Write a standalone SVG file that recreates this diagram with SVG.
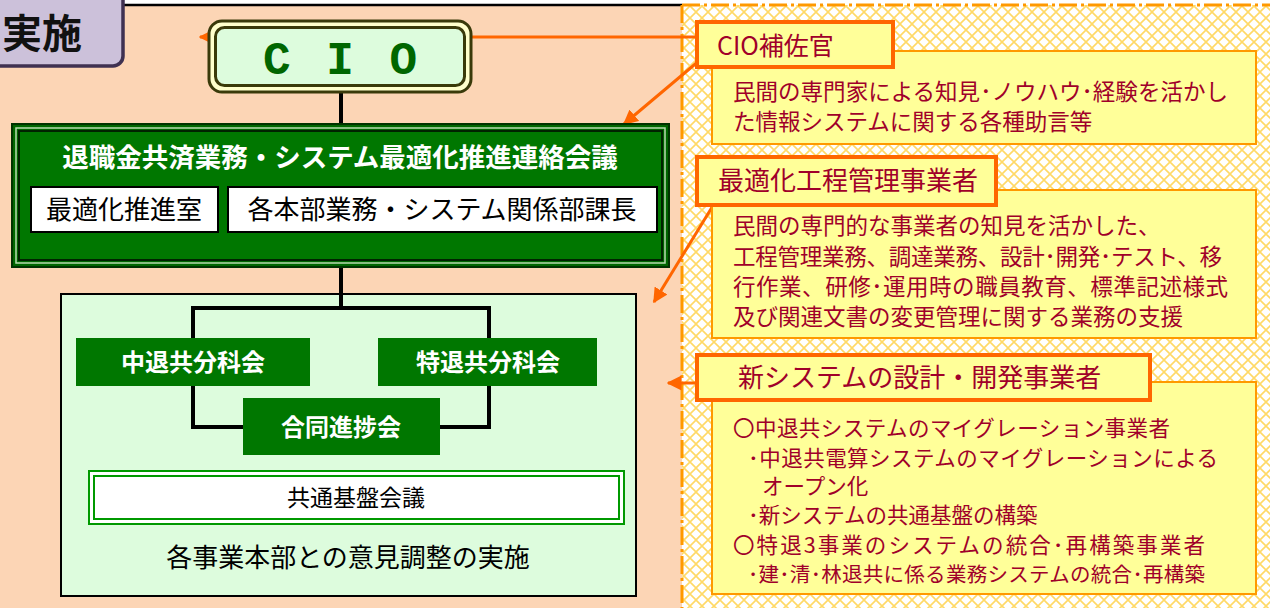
<svg xmlns="http://www.w3.org/2000/svg" width="1270" height="608" viewBox="0 0 1270 608">
<defs>
<pattern id="hatch" width="12" height="12" patternUnits="userSpaceOnUse">
<rect width="12" height="12" fill="#FFFFFF"/>
<path d="M0,0 L12,12 M12,0 L0,12" stroke="#FFD966" stroke-width="1.6"/>
</pattern>
<marker id="ah" viewBox="0 0 10 10" refX="9" refY="5" markerWidth="5" markerHeight="5" orient="auto" markerUnits="strokeWidth">
<path d="M0,0 L10,5 L0,10 z" fill="#FF6600"/>
</marker>
<style>
.jp{font-family:"Noto Sans CJK JP","Liberation Sans",sans-serif;}
.wt{fill:#FFFFFF;font-weight:bold;}
.bk{fill:#000000;}
.rd{fill:#A0002A;}
.gbox{fill:#007700;}
.lbl{fill:#FFFF99;stroke:#FF6600;stroke-width:4;}
.desc{fill:#FFFF99;stroke:#FF9900;stroke-width:2;}
.conn{stroke:#000000;stroke-width:4;fill:none;}
.oarr{stroke:#FF6600;stroke-width:3;fill:none;marker-end:url(#ah);}
</style>
</defs>

<!-- backgrounds -->
<rect x="0" y="0" width="1270" height="608" fill="#FFFFFF"/>
<rect x="0" y="5" width="682" height="603" fill="#FCD5B5"/>
<rect x="682" y="5" width="588" height="603" fill="url(#hatch)"/>
<line x1="120" y1="5" x2="682" y2="5" stroke="#000000" stroke-width="2.5"/>
<line x1="682" y1="5" x2="1270" y2="5" stroke="#FF9900" stroke-width="3" stroke-dasharray="18 4 3 4"/>
<line x1="682" y1="5" x2="682" y2="608" stroke="#FF9900" stroke-width="3" stroke-dasharray="18 4 3 4"/>

<!-- tab -->
<g id="tab">
<rect x="-12" y="-12" width="135" height="78" rx="10" fill="#CCC1DA" stroke="#3F3151" stroke-width="3.5"/>
<text x="2" y="48" class="jp" font-size="40" font-weight="bold" fill="#111111">実施</text>
</g>

<!-- lower box -->
<g id="lower">
<rect x="61" y="294" width="575" height="302" fill="#DDFCDD" stroke="#000000" stroke-width="2"/>
<text x="348" y="567" text-anchor="middle" class="jp bk" font-size="26">各事業本部との意見調整の実施</text>
</g>

<!-- connectors -->
<g id="connectors">
<line class="conn" x1="341" y1="90" x2="341" y2="126"/>
<line class="conn" x1="341" y1="265" x2="341" y2="308"/>
<polyline class="conn" points="193,340 193,308 489,308 489,340"/>
<polyline class="conn" points="193,385 193,427 245,427"/>
<polyline class="conn" points="489,385 489,427 438,427"/>
<line class="oarr" x1="697" y1="37" x2="200" y2="37"/>
<line class="oarr" x1="700" y1="60" x2="624" y2="124"/>
<line class="oarr" x1="714" y1="204" x2="654" y2="302"/>
<line class="oarr" x1="697" y1="383" x2="668" y2="383"/>
</g>

<!-- CIO -->
<g id="cio">
<rect x="209" y="21" width="262" height="71" rx="13" fill="#FFFFCC" stroke="#3A3A0A" stroke-width="3"/>
<rect x="215.5" y="27.5" width="249" height="58" rx="9" fill="#DDFCDD" stroke="#3A3A0A" stroke-width="3"/>
<text x="342" y="74" text-anchor="middle" font-family="Liberation Mono, monospace" font-size="46" font-weight="bold" fill="#006600" letter-spacing="4">C I O</text>
</g>

<!-- liaison council -->
<g id="council">
<rect x="12" y="124" width="657" height="143" fill="#006600" stroke="#003300" stroke-width="2"/>
<rect x="16" y="128" width="649" height="135" fill="none" stroke="#B8DDB0" stroke-width="1.5"/>
<rect x="19" y="131" width="643" height="129" fill="#007700" stroke="#002200" stroke-width="2"/>
<text x="340" y="167" text-anchor="middle" class="jp wt" font-size="26.5">退職金共済業務・システム最適化推進連絡会議</text>
<g id="office">
<rect x="31" y="187" width="187" height="45" fill="#FFFFFF" stroke="#000000" stroke-width="2"/>
<text x="124" y="219" text-anchor="middle" class="jp bk" font-size="26">最適化推進室</text>
</g>
<g id="managers">
<rect x="228" y="187" width="429" height="45" fill="#FFFFFF" stroke="#000000" stroke-width="2"/>
<text x="442" y="219" text-anchor="middle" class="jp bk" font-size="26">各本部業務・システム関係部課長</text>
</g>
</g>

<g id="chutai">
<rect x="76" y="338" width="234" height="48" class="gbox"/>
<text x="193" y="371" text-anchor="middle" class="jp wt" font-size="24">中退共分科会</text>
</g>
<g id="tokutai">
<rect x="378" y="338" width="219" height="48" class="gbox"/>
<text x="488" y="371" text-anchor="middle" class="jp wt" font-size="24">特退共分科会</text>
</g>
<g id="joint">
<rect x="243" y="398" width="197" height="57" class="gbox"/>
<text x="341" y="436" text-anchor="middle" class="jp wt" font-size="24">合同進捗会</text>
</g>
<g id="common">
<rect x="89" y="471" width="535" height="53" fill="#FFFFFF" stroke="#009900" stroke-width="2"/>
<rect x="94" y="476" width="525" height="43" fill="#FFFFFF" stroke="#009900" stroke-width="2"/>
<text x="356" y="506" text-anchor="middle" class="jp bk" font-size="23">共通基盤会議</text>
</g>

<!-- right side -->
<g id="cio-assist">
<rect x="712" y="51" width="544" height="93" class="desc"/>
<text x="733" y="100" class="jp rd" font-size="22.5" textLength="495">民間の専門家による知見･ノウハウ･経験を活かし</text>
<text x="733" y="130" class="jp rd" font-size="22.5">た情報システムに関する各種助言等</text>
<rect x="697" y="22" width="196" height="45" class="lbl"/>
<text x="717" y="55" class="jp rd" font-size="25">CIO補佐官</text>
</g>

<g id="pm">
<rect x="712" y="190" width="544" height="148" class="desc"/>
<text x="733" y="234" class="jp rd" font-size="22.5">民間の専門的な事業者の知見を活かした、</text>
<text x="733" y="265" class="jp rd" font-size="22.5" textLength="489">工程管理業務、調達業務、設計･開発･テスト、移</text>
<text x="733" y="295" class="jp rd" font-size="22.5" textLength="495">行作業、研修･運用時の職員教育、標準記述様式</text>
<text x="733" y="325" class="jp rd" font-size="22.5">及び関連文書の変更管理に関する業務の支援</text>
<rect x="697" y="157" width="299" height="48" class="lbl"/>
<text x="718" y="190" class="jp rd" font-size="26">最適化工程管理事業者</text>
</g>

<g id="dev">
<rect x="712" y="382" width="544" height="212" class="desc"/>
<text x="733" y="436" class="jp rd" font-size="21.5" textLength="437">〇中退共システムのマイグレーション事業者</text>
<text x="748" y="466" class="jp rd" font-size="21.5" textLength="470">･中退共電算システムのマイグレーションによる</text>
<text x="762" y="494" class="jp rd" font-size="21.5">オープン化</text>
<text x="748" y="523" class="jp rd" font-size="21.5">･新システムの共通基盤の構築</text>
<text x="733" y="553" class="jp rd" font-size="21.5" textLength="472">〇特退3事業のシステムの統合･再構築事業者</text>
<text x="748" y="582" class="jp rd" font-size="20.5" textLength="457">･建･清･林退共に係る業務システムの統合･再構築</text>
<rect x="697" y="355" width="453" height="45" class="lbl"/>
<text x="738" y="387" class="jp rd" font-size="26">新システムの設計・開発事業者</text>
</g>
</svg>
